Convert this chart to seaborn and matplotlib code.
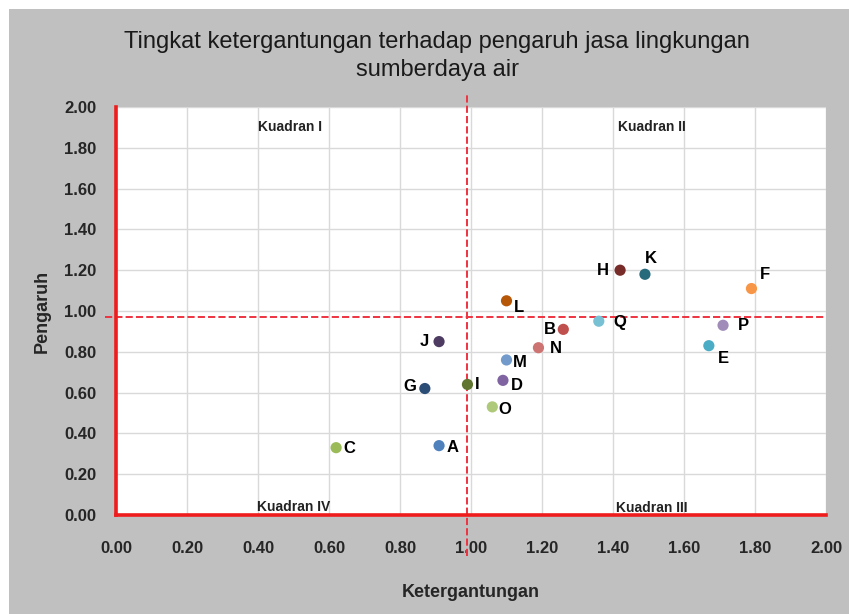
import matplotlib.pyplot as plt
import seaborn as sns
import pandas as pd
from matplotlib.patches import Rectangle

# DATA
labels = ['A', 'B', 'C', 'D', 'E', 'F', 'G', 'H', 'I', 'J', 'K', 'L', 'M', 'N', 'O', 'P', 'Q']
ketergantungan = [0.91, 1.26, 0.62, 1.09, 1.67, 1.79, 0.87, 1.42, 0.99, 0.91, 1.49, 1.10, 1.10, 1.19, 1.06, 1.71, 1.36]
pengaruh = [0.34, 0.91, 0.33, 0.66, 0.83, 1.11, 0.62, 1.20, 0.64, 0.85, 1.18, 1.05, 0.76, 0.82, 0.53, 0.93, 0.95]
colors = ['#4f81bd', '#c0504d', '#9bbb59', '#8064a2', '#4bacc6', '#f79646',
          '#2c4d75', '#772c2a', '#5f7530', '#4d3b62', '#276a7c', '#b65708',
          '#729aca', '#cd7371', '#afc97a', '#a18cb9', '#78c0d4']
# LABEL OFFSETS IN PIXELS (dx, dy)
offsets = [(14, -2), (-13, 0), (13, -1), (14, -5), (15, -13), (13, 14), (-15, 2), (-17, 0),
           (10, 0), (-15, 0), (6, 16), (13, -7), (13, -3), (17, -1), (13, -3), (20, 0), (21, -1)]
x_cut = 0.99
y_cut = 0.97
quadrants = ['Kuadran I', 'Kuadran II', 'Kuadran IV', 'Kuadran III']
quad_x = [0.49, 1.51, 0.50, 1.51]
quad_y = [1.90, 1.90, 0.04, 0.035]

df = pd.DataFrame({'Ketergantungan': ketergantungan, 'Pengaruh': pengaruh, 'label': labels})

sns.set_style('white')
plt.rcParams['font.family'] = ['Liberation Sans', 'DejaVu Sans']

canvas = plt.figure(figsize=(8.49, 6.14), dpi=100, facecolor='#c0c0c0')
# THIN WHITE STRIP ON TOP AND LEFT OF THE GRAY CHART AREA
canvas.patches.append(Rectangle((0, 0), 9 / 849, 1, transform=canvas.transFigure,
                                facecolor='white', edgecolor='none', zorder=0))
canvas.patches.append(Rectangle((0, 1 - 9 / 614), 1, 9 / 614, transform=canvas.transFigure,
                                facecolor='white', edgecolor='none', zorder=0))
ax = canvas.add_axes([116 / 849, 1 - 515 / 614, 710 / 849, 408 / 614])
ax.set_zorder(2)
ax.set_facecolor('white')

sns.scatterplot(data=df, x='Ketergantungan', y='Pengaruh', hue='label', palette=colors,
                s=65, edgecolor='none', legend=False, ax=ax, zorder=5)

for lab, xv, yv, (dx, dy) in zip(labels, ketergantungan, pengaruh, offsets):
    ax.annotate(lab, (xv, yv), xytext=(dx * 0.72, dy * 0.72), textcoords='offset points',
                ha='center', va='center', fontsize=12, fontweight='bold', color='black', zorder=6)

for q, qx, qy in zip(quadrants, quad_x, quad_y):
    ax.text(qx, qy, q, ha='center', va='center', fontsize=10, fontweight='bold', color='#222222')

ax.set_xlim(0, 2)
ax.set_ylim(0, 2)
ticks = [i * 0.2 for i in range(11)]
ax.set_xticks(ticks)
ax.set_yticks(ticks)
ax.set_xticklabels([f'{t:.2f}' for t in ticks], fontsize=12, fontweight='bold')
ax.set_yticklabels([f'{t:.2f}' for t in ticks], fontsize=12, fontweight='bold')
ax.tick_params(axis='x', length=0, pad=19)
ax.tick_params(axis='y', length=0, pad=14)
ax.grid(True, color='#d9d9d9', linewidth=1)
ax.set_axisbelow(True)

for side in ['top', 'right']:
    ax.spines[side].set_visible(False)
for side in ['left', 'bottom']:
    ax.spines[side].set_color('#ee1c1c')
    ax.spines[side].set_linewidth(2.6)
    ax.spines[side].set_zorder(4)

# QUADRANT DIVIDERS, RUNNING A LITTLE PAST THE PLOT AREA
ax.plot([x_cut, x_cut], [-0.2, 2.06], ls='--', color='#ee3340', lw=1.4, clip_on=False, zorder=3)
ax.plot([-0.03, 2.0], [y_cut, y_cut], ls='--', color='#ee3340', lw=1.4, clip_on=False, zorder=3)

ax.set_xlabel('Ketergantungan', fontsize=13, fontweight='bold', labelpad=20)
ax.set_ylabel('Pengaruh', fontsize=13, fontweight='bold', labelpad=10)
canvas.text(0.515, 0.909, 'Tingkat ketergantungan terhadap pengaruh jasa lingkungan\nsumberdaya air',
            ha='center', va='center', fontsize=17, linespacing=1.35, color='#1a1a1a')

canvas.savefig('out.png', dpi=100)
